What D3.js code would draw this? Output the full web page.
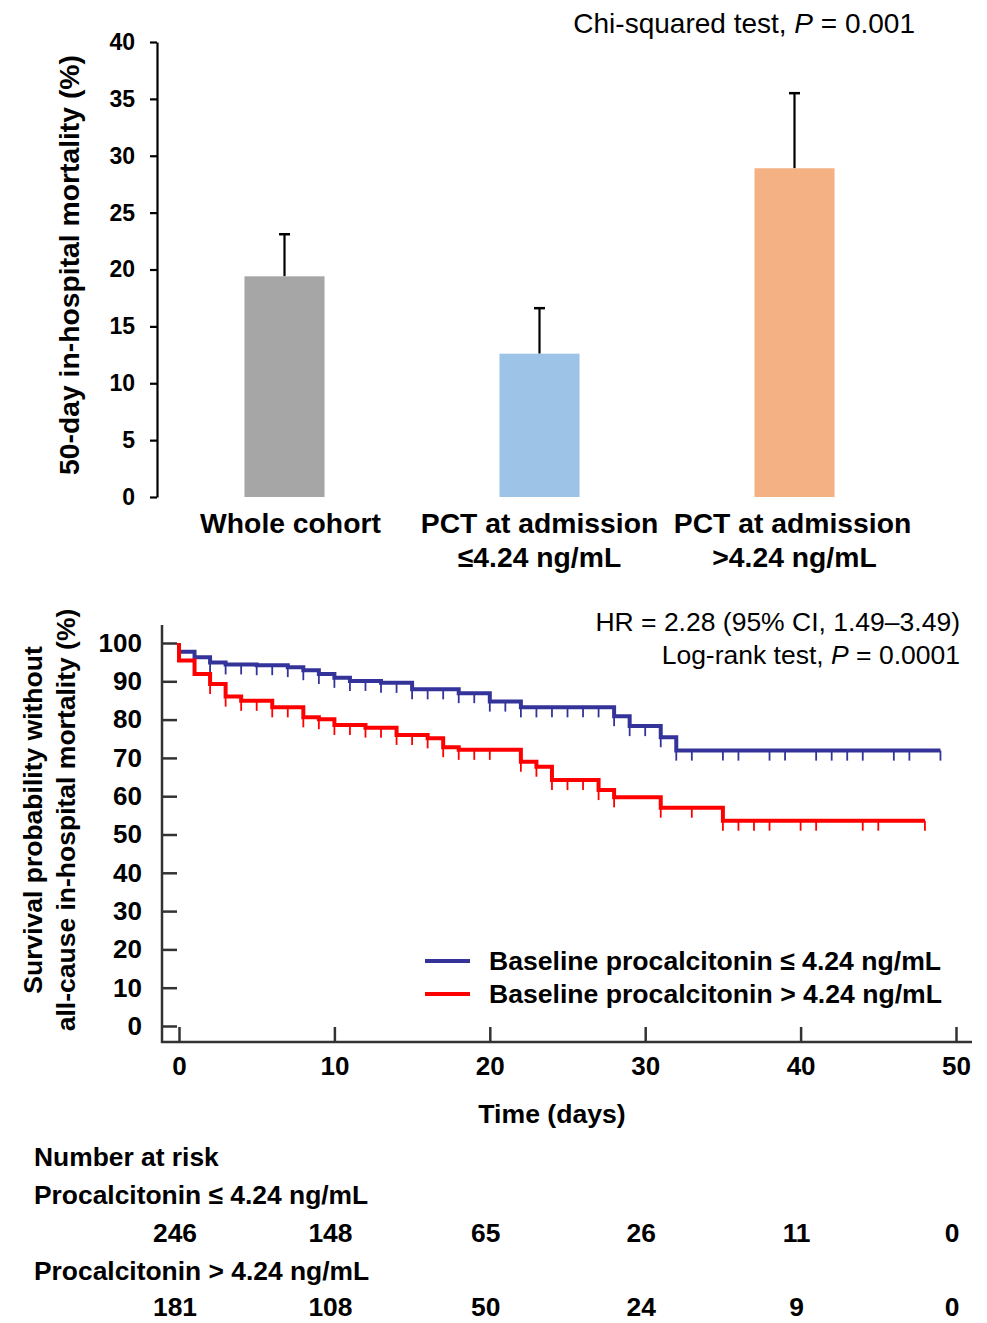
<!DOCTYPE html>
<html>
<head>
<meta charset="utf-8">
<script src="https://cdn.jsdelivr.net/npm/d3@7"></script>
<style>
  body { margin: 0; background: #fff; }
  svg { display: block; font-family: "Liberation Sans", Arial, sans-serif; }
  .bold { font-weight: bold; }
</style>
</head>
<body>
<svg id="chart" width="987" height="1323"></svg>
<script>
// bar chart data
var barLine1 = ["Whole cohort", "PCT at admission", "PCT at admission"];
var barLine2 = ["", "\u22644.24 ng/mL", ">4.24 ng/mL"];
var barValues = [19.4, 12.6, 28.9];
var barUpper = [23.1, 16.6, 35.5];
var barColors = ["#a6a6a6", "#9dc3e6", "#f4b183"];
var barTicks = [0, 5, 10, 15, 20, 25, 30, 35, 40];

// Kaplan-Meier data (days, % surviving)
var lowTimes = [0, 0, 1, 2, 3, 5, 7, 8, 9, 10, 11, 13, 15, 18, 20, 22, 28, 29, 31, 32, 49];
var lowSurv = [100, 97.7, 96.3, 94.9, 94.4, 94.2, 93.7, 92.9, 91.9, 90.9, 90.1, 89.6, 87.9, 86.9, 84.7, 83.2, 80.9, 78.3, 75.4, 71.9, 71.9];
var lowCensor = [2, 3, 4, 5, 6, 7, 8, 9, 10, 11, 12, 13, 14, 15, 16, 17, 18, 19, 20, 21, 22, 23, 24, 25, 26, 27, 28, 29, 30, 31, 32, 33,
                 35, 36, 38, 39, 41, 42, 43, 44, 46, 47, 49];

var highTimes = [0, 0, 1, 2, 3, 4, 6, 8, 9, 10, 12, 14, 16, 17, 18, 22, 23, 24, 27, 28, 31, 35, 48];
var highSurv = [100, 95.4, 91.9, 89.3, 86.0, 84.9, 83.2, 80.6, 80.1, 78.6, 77.9, 76.0, 75.1, 72.8, 72.1, 69.0, 67.7, 64.2, 61.6, 59.7, 57.0, 53.6, 53.6];
var highCensor = [2, 3, 4, 5, 6, 7, 8, 9, 10, 11, 12, 13, 14, 15, 16, 17, 18, 19, 20, 22, 23, 24, 25, 26, 27, 28, 31, 33,
                  35, 36, 37, 38, 40, 41, 44, 45, 48];

var kmXTicks = [0, 10, 20, 30, 40, 50];
var kmYTicks = [0, 10, 20, 30, 40, 50, 60, 70, 80, 90, 100];
var legendLabels = ["Baseline procalcitonin \u2264 4.24 ng/mL", "Baseline procalcitonin > 4.24 ng/mL"];
var kmColors = ["#333399", "#ff0000"];

// number at risk
var riskTimes = [0, 10, 20, 30, 40, 50];
var riskLow = [246, 148, 65, 26, 11, 0];
var riskHigh = [181, 108, 50, 24, 9, 0];

var svg = d3.select("#chart");

// ---------- bar chart ----------
var xBar = d3.scaleBand().domain(d3.range(barValues.length))
    .range([157, 922]).paddingInner(0.686).paddingOuter(0.343);
var yBar = d3.scaleLinear().domain([0, 40]).range([497, 42]);

var barAxis = svg.append("g")
    .attr("transform", "translate(157,0)")
    .call(d3.axisLeft(yBar).tickValues(barTicks).tickSize(7).tickSizeOuter(0).tickPadding(15));
barAxis.select(".domain").attr("stroke", "#000").attr("stroke-width", 2.2);
barAxis.selectAll(".tick line").attr("stroke", "#000").attr("stroke-width", 2.2);
barAxis.selectAll(".tick text").attr("class", "bold").attr("font-size", 23).attr("fill", "#000");

var bars = svg.append("g").selectAll("g.bar")
    .data(barValues)
    .enter()
    .append("g")
    .classed("bar", true);

bars.append("line")
    .attr("x1", function (d, i) { return xBar(i) + xBar.bandwidth() / 2; })
    .attr("x2", function (d, i) { return xBar(i) + xBar.bandwidth() / 2; })
    .attr("y1", function (d) { return yBar(d); })
    .attr("y2", function (d, i) { return yBar(barUpper[i]); })
    .attr("stroke", "#000").attr("stroke-width", 2.2);
bars.append("line")
    .attr("x1", function (d, i) { return xBar(i) + xBar.bandwidth() / 2 - 5.5; })
    .attr("x2", function (d, i) { return xBar(i) + xBar.bandwidth() / 2 + 5.5; })
    .attr("y1", function (d, i) { return yBar(barUpper[i]); })
    .attr("y2", function (d, i) { return yBar(barUpper[i]); })
    .attr("stroke", "#000").attr("stroke-width", 2.5);
bars.append("rect")
    .attr("x", function (d, i) { return xBar(i); })
    .attr("y", function (d) { return yBar(d); })
    .attr("width", xBar.bandwidth())
    .attr("height", function (d) { return yBar(0) - yBar(d); })
    .attr("fill", function (d, i) { return barColors[i]; });

bars.append("text")
    .attr("class", "bold")
    .attr("x", function (d, i) { return xBar(i) + xBar.bandwidth() / 2 + (i === 0 ? 6 : 0) - (i === 2 ? 2 : 0); })
    .attr("y", 533)
    .attr("text-anchor", "middle")
    .attr("font-size", 28.3)
    .text(function (d, i) { return barLine1[i]; });
bars.append("text")
    .attr("class", "bold")
    .attr("x", function (d, i) { return xBar(i) + xBar.bandwidth() / 2; })
    .attr("y", 567)
    .attr("text-anchor", "middle")
    .attr("font-size", 28.3)
    .text(function (d, i) { return barLine2[i]; });

svg.append("text")
    .attr("class", "bold")
    .attr("transform", "translate(79,265) rotate(-90)")
    .attr("text-anchor", "middle")
    .attr("font-size", 28.3)
    .text("50-day in-hospital mortality (%)");

var chi = svg.append("text")
    .attr("x", 915).attr("y", 33)
    .attr("text-anchor", "end")
    .attr("font-size", 28);
chi.append("tspan").text("Chi-squared test, ");
chi.append("tspan").attr("font-style", "italic").text("P");
chi.append("tspan").text(" = 0.001");

// ---------- Kaplan-Meier ----------
var xKM = d3.scaleLinear().domain([0, 50]).range([179, 956]);
var yKM = d3.scaleLinear().domain([0, 100]).range([1026, 643]);
var axisCol = "#333";

var yAx = svg.append("g")
    .attr("transform", "translate(162,0)")
    .call(d3.axisLeft(yKM).tickValues(kmYTicks).tickSize(-15).tickPadding(20));
yAx.select(".domain").remove();
yAx.selectAll(".tick line").attr("stroke", axisCol).attr("stroke-width", 2.5);
yAx.selectAll(".tick text").attr("class", "bold").attr("font-size", 26).attr("fill", "#000");

var xAx = svg.append("g")
    .attr("transform", "translate(0,1042)")
    .call(d3.axisBottom(xKM).tickValues(kmXTicks).tickSize(-15).tickPadding(15));
xAx.select(".domain").remove();
xAx.selectAll(".tick line").attr("stroke", axisCol).attr("stroke-width", 2.5);
xAx.selectAll(".tick text").attr("class", "bold").attr("font-size", 26).attr("fill", "#000");

svg.append("line").attr("x1", 162).attr("x2", 162).attr("y1", 625).attr("y2", 1043)
    .attr("stroke", axisCol).attr("stroke-width", 2.5);
svg.append("line").attr("x1", 161).attr("x2", 972).attr("y1", 1042).attr("y2", 1042)
    .attr("stroke", axisCol).attr("stroke-width", 2.5);

var kmLine = d3.line()
    .x(function (d) { return xKM(d[0]); })
    .y(function (d) { return yKM(d[1]); })
    .curve(d3.curveStepAfter);

function survAt(times, surv, t) {
    var s = surv[0];
    for (var i = 0; i < times.length; i++) {
        if (times[i] <= t) { s = surv[i]; }
    }
    return s;
}

var groups = [
    { times: lowTimes, surv: lowSurv, censor: lowCensor, color: kmColors[0] },
    { times: highTimes, surv: highSurv, censor: highCensor, color: kmColors[1] }
];

groups.forEach(function (g) {
    var pts = g.times.map(function (t, i) { return [t, g.surv[i]]; });
    var cg = svg.append("g");
    cg.selectAll("line.censor")
        .data(g.censor)
        .enter()
        .append("line")
        .classed("censor", true)
        .attr("x1", function (t) { return xKM(t); })
        .attr("x2", function (t) { return xKM(t); })
        .attr("y1", function (t) { return yKM(survAt(g.times, g.surv, t)); })
        .attr("y2", function (t) { return yKM(survAt(g.times, g.surv, t)) + 10; })
        .attr("stroke", g.color)
        .attr("stroke-width", 1.8);
    cg.append("path")
        .datum(pts)
        .attr("d", kmLine)
        .attr("fill", "none")
        .attr("stroke", g.color)
        .attr("stroke-width", 4);
});

// legend
var leg = svg.append("g").selectAll("g")
    .data(legendLabels)
    .enter()
    .append("g")
    .attr("transform", function (d, i) { return "translate(0," + (961 + i * 33) + ")"; });
leg.append("line")
    .attr("x1", 425).attr("x2", 470)
    .attr("stroke", function (d, i) { return kmColors[i]; })
    .attr("stroke-width", 4);
leg.append("text")
    .attr("class", "bold")
    .attr("x", 489).attr("y", 9)
    .attr("font-size", 26.6)
    .text(function (d) { return d; });

svg.append("text")
    .attr("x", 960).attr("y", 631)
    .attr("text-anchor", "end")
    .attr("font-size", 26.5)
    .text("HR = 2.28 (95% CI, 1.49\u20133.49)");
var lr = svg.append("text")
    .attr("x", 960).attr("y", 664)
    .attr("text-anchor", "end")
    .attr("font-size", 26.5);
lr.append("tspan").text("Log-rank test, ");
lr.append("tspan").attr("font-style", "italic").text("P");
lr.append("tspan").text(" = 0.0001");

svg.append("text")
    .attr("class", "bold")
    .attr("x", 552).attr("y", 1123)
    .attr("text-anchor", "middle")
    .attr("font-size", 26.6)
    .text("Time (days)");

var yTitle = svg.append("text")
    .attr("class", "bold")
    .attr("transform", "translate(0,820) rotate(-90)")
    .attr("text-anchor", "middle")
    .attr("font-size", 26.5);
yTitle.append("tspan").attr("x", 0).attr("y", 42).text("Survival probability without");
yTitle.append("tspan").attr("x", 0).attr("y", 75).text("all-cause in-hospital mortality (%)");

// number at risk table
var riskG = svg.append("g").attr("class", "bold").attr("font-size", 26.4);
riskG.append("text").attr("x", 34).attr("y", 1166).text("Number at risk");
riskG.append("text").attr("x", 34).attr("y", 1204).text("Procalcitonin \u2264 4.24 ng/mL");
riskG.append("text").attr("x", 34).attr("y", 1280).text("Procalcitonin > 4.24 ng/mL");

riskG.selectAll("text.low")
    .data(riskLow)
    .enter()
    .append("text")
    .classed("low", true)
    .attr("x", function (d, i) { return xKM(riskTimes[i]) - 4; })
    .attr("y", 1242)
    .attr("text-anchor", "middle")
    .text(function (d) { return d; });
riskG.selectAll("text.high")
    .data(riskHigh)
    .enter()
    .append("text")
    .classed("high", true)
    .attr("x", function (d, i) { return xKM(riskTimes[i]) - 4; })
    .attr("y", 1316)
    .attr("text-anchor", "middle")
    .text(function (d) { return d; });
</script>
</body>
</html>
